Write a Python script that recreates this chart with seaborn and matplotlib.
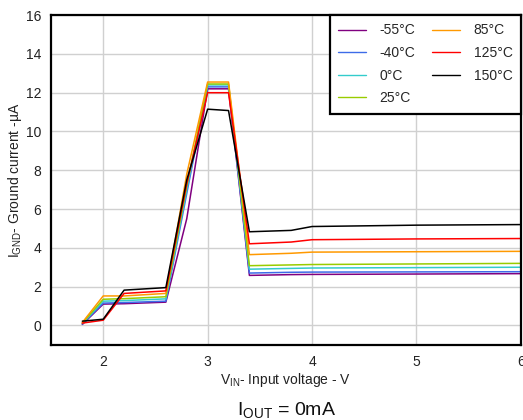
import numpy as np
import pandas as pd
import matplotlib
matplotlib.use("Agg")
import matplotlib.pyplot as plt
import seaborn as sns

# Data
vin = [1.8, 2.0, 2.2, 2.6, 2.8, 3.0, 3.2, 3.4, 3.8, 4.0, 5.0, 6.0]
temps = ["-55°C", "-40°C", "0°C", "25°C", "85°C", "125°C", "150°C"]
i_m55 = [0.05, 1.10, 1.12, 1.20, 5.5, 12.20, 12.20, 2.58, 2.62, 2.63, 2.65, 2.67]
i_m40 = [0.08, 1.15, 1.18, 1.25, 6.8, 12.30, 12.30, 2.70, 2.74, 2.75, 2.76, 2.77]
i_0 = [0.10, 1.25, 1.28, 1.37, 7.0, 12.40, 12.40, 2.90, 2.94, 2.96, 2.98, 3.00]
i_25 = [0.12, 1.35, 1.38, 1.48, 7.2, 12.45, 12.45, 3.08, 3.12, 3.14, 3.17, 3.20]
i_85 = [0.15, 1.52, 1.52, 1.65, 7.8, 12.55, 12.55, 3.65, 3.72, 3.78, 3.80, 3.82]
i_125 = [0.12, 0.27, 1.65, 1.78, 7.3, 12.00, 12.00, 4.21, 4.30, 4.42, 4.46, 4.48]
i_150 = [0.22, 0.32, 1.82, 1.95, 7.5, 11.15, 11.08, 4.83, 4.90, 5.10, 5.17, 5.20]
series = [i_m55, i_m40, i_0, i_25, i_85, i_125, i_150]
colors = ["#800080", "#3D6BE8", "#33CCCC", "#99CC00", "#FF9900", "#FF0000", "#000000"]

x_ticks = [2, 3, 4, 5, 6]
y_ticks = [0, 2, 4, 6, 8, 10, 12, 14, 16]

rows = []
for t, vals in zip(temps, series):
    for v, i in zip(vin, vals):
        rows.append({"vin": v, "ignd": i, "temp": t})
df = pd.DataFrame(rows)

sns.set_theme(style="whitegrid")
plt.rcParams["font.family"] = ["Liberation Sans", "DejaVu Sans"]
plt.rcParams["mathtext.fontset"] = "custom"
plt.rcParams["mathtext.rm"] = "Liberation Sans"
plt.rcParams["mathtext.it"] = "Liberation Sans:italic"
plt.rcParams["mathtext.bf"] = "Liberation Sans:bold"

fig = plt.figure(figsize=(5.23, 4.2), dpi=100)
ax = fig.add_axes([0.0975, 0.179, 0.8985, 0.785])

sns.lineplot(data=df, x="vin", y="ignd", hue="temp", hue_order=temps,
             palette=dict(zip(temps, colors)), linewidth=1.1, ax=ax,
             estimator=None, sort=False)

ax.set_xlim(1.5, 6.0)
ax.set_ylim(-1, 16)
ax.set_xticks(x_ticks)
ax.set_yticks(y_ticks)
ax.grid(True, color="#d0d0d0", linewidth=1.0)
ax.set_facecolor("white")
for s in ax.spines.values():
    s.set_color("black")
    s.set_linewidth(1.6)
ax.tick_params(axis="both", length=0, labelsize=10, colors="#222222", pad=7)

ax.set_xlabel(r"V$_{\mathrm{IN}}$- Input voltage - V", fontsize=10, color="#222222", labelpad=2)
ax.set_ylabel(r"I$_{\mathrm{GND}}$- Ground current -µA", fontsize=10, color="#222222", labelpad=1)

leg = ax.legend(ncol=2, loc="upper right", frameon=True, fancybox=False,
                borderaxespad=0.0, fontsize=10, handlelength=2.0,
                columnspacing=1.2, labelspacing=0.62, borderpad=0.6,
                handletextpad=1.0)
leg.get_frame().set_edgecolor("black")
leg.get_frame().set_linewidth(1.6)
leg.get_frame().set_alpha(1)
for h in leg.get_lines():
    h.set_linewidth(1.0)

fig.text(0.548, 0.025, r"I$_{\mathrm{OUT}}$ = 0mA", ha="center", va="center", fontsize=14, color="#111111")

fig.savefig("out.png", dpi=100)
